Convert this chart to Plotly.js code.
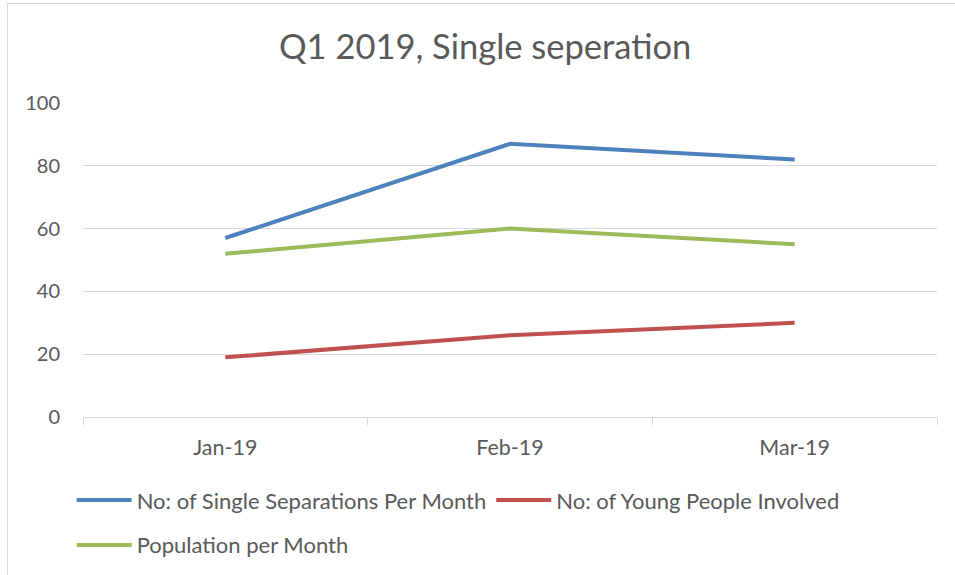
<!DOCTYPE html>
<html>
<head>
<meta charset="utf-8">
<script src="https://cdn.plot.ly/plotly-3.0.1.min.js"></script>
<style>
html,body{margin:0;padding:0;background:#fff;}
#wrap{position:relative;width:955px;height:575px;overflow:hidden;}
#chart{width:955px;height:575px;}
#frame{position:absolute;left:7px;top:3px;width:1000px;height:1000px;border-left:1px solid #d9d9d9;border-top:1px solid #d9d9d9;pointer-events:none;}
</style>
</head>
<body>
<div id="wrap"><div id="chart"></div><div id="frame"></div></div>
<script>
var months = ["Jan-19", "Feb-19", "Mar-19"];
var separations = [57, 87, 82];
var youngPeople = [19, 26, 30];
var population = [52, 60, 55];
var yTicks = [0, 20, 40, 60, 80, 100];

var font = "Lato, 'Open Sans', sans-serif";
var grey = "#595959";

var traces = [
  {x: months, y: separations, type: "scatter", mode: "lines", name: "No: of Single Separations Per Month",
   line: {color: "#4f81bd", width: 4}, legend: "legend"},
  {x: months, y: youngPeople, type: "scatter", mode: "lines", name: "No: of Young People Involved",
   line: {color: "#c0504d", width: 4}, legend: "legend"},
  {x: months, y: population, type: "scatter", mode: "lines", name: "Population per Month",
   line: {color: "#9bbb59", width: 4}, legend: "legend2"}
];

var layout = {
  width: 955, height: 575,
  margin: {l: 83, r: 18, t: 103, b: 158},
  paper_bgcolor: "#fff", plot_bgcolor: "#fff",
  font: {family: font, color: grey, size: 20},
  title: {text: "Q1 2019, Single seperation", font: {family: font, size: 34.5, color: grey},
          x: 0.508, xref: "container", xanchor: "center", y: 0.918, yref: "container", yanchor: "middle"},
  xaxis: {type: "category", range: [-0.5, 2.5], showgrid: false, showline: true, linecolor: "#d9d9d9", linewidth: 1,
          ticks: "outside", tickson: "boundaries", ticklen: 7, tickcolor: "#d9d9d9", tickwidth: 1,
          ticklabelstandoff: 11, tickfont: {size: 21.5, color: grey, family: font}, fixedrange: true},
  yaxis: {range: [0, 100], tickvals: yTicks, showgrid: true, gridcolor: "#d9d9d9", gridwidth: 1,
          zeroline: false, showline: false, ticks: "", ticklabelstandoff: 22,
          tickfont: {size: 20, color: grey, family: font}, fixedrange: true},
  showlegend: true,
  legend: {orientation: "h", xref: "container", yref: "container", x: 0.075, y: 0.13, xanchor: "left", yanchor: "middle",
           font: {size: 22, color: grey, family: font}, itemwidth: 55, bgcolor: "rgba(0,0,0,0)"},
  legend2: {orientation: "h", xref: "container", yref: "container", x: 0.075, y: 0.052, xanchor: "left", yanchor: "middle",
           font: {size: 22, color: grey, family: font}, itemwidth: 55, bgcolor: "rgba(0,0,0,0)"}
};

Plotly.newPlot("chart", traces, layout, {displayModeBar: false, staticPlot: true});
</script>
</body>
</html>
